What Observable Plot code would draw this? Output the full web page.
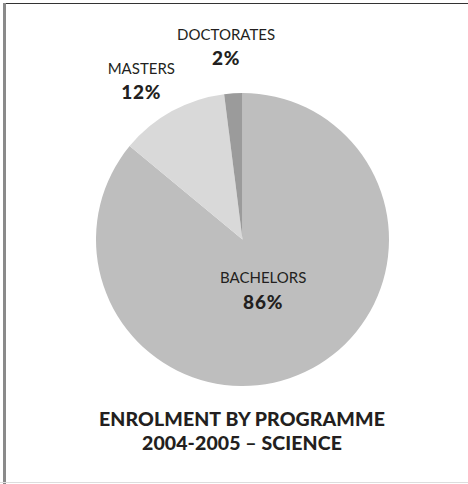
<!DOCTYPE html>
<html>
<head>
<meta charset="utf-8">
<script src="https://cdn.jsdelivr.net/npm/d3@7"></script>
<script src="https://cdn.jsdelivr.net/npm/@observablehq/plot@0.6"></script>
<style>
html, body { margin: 0; padding: 0; background: #fff; }
#frame { position: relative; width: 468px; height: 484px; overflow: hidden; font-family: Lato, sans-serif; }
#frame .top { position: absolute; left: 3px; top: 3px; right: 0; height: 1px; background: #333; }
#frame .left { position: absolute; left: 3px; top: 3px; width: 3px; bottom: 0; background: #8a8a8a; }
#frame .bottom { position: absolute; left: 0; right: 0; top: 482px; height: 1px; background: #ddd; }
#chart { position: absolute; left: 0; top: 0; }
#chart .pct text { letter-spacing: 0.8px; }
#title { position: absolute; left: 0; width: 484px; top: 406.5px; text-align: center; font-weight: 900;
  font-size: 19.5px; letter-spacing: 0.1px; line-height: 24.3px; color: #231f20; }
</style>
</head>
<body>
<div id="frame">
  <div class="top"></div>
  <div class="left"></div>
  <div class="bottom"></div>
  <div id="chart"></div>
  <div id="title">ENROLMENT BY PROGRAMME<br>2004-2005 – SCIENCE</div>
</div>
<script>
// ---- data ----
const categories = ["BACHELORS", "MASTERS", "DOCTORATES"];
const shares = [86, 12, 2];

// ---- layout (not data) ----
const cx = 242.5, cy = 239.5, R = 146.5;
const labelLayout = {
  BACHELORS: {r: 0.366, nudge: 3.1},
  MASTERS: {r: 1.292, nudge: -3.7},
  DOCTORATES: {r: 1.326, nudge: -1.4}
};
const color = Plot.scale({color: {domain: categories, range: ["#bebebe", "#d9d9d9", "#9b9b9b"]}});

const rows = categories.map((c, i) => ({category: c, share: shares[i]}));
const arcs = d3.pie().sort(null).value(d => d.share)(rows);

const labels = arcs.map(a => {
  const L = labelLayout[a.data.category];
  const ang = (a.startAngle + a.endAngle) / 2 + L.nudge * Math.PI / 180;
  return {
    x: Math.sin(ang) * L.r,
    y: -Math.cos(ang) * L.r,
    name: a.data.category,
    pct: `${a.data.share}%`
  };
});

function pieMark(index, scales, values, dimensions, context) {
  const x0 = scales.x(0), y0 = scales.y(0), r = scales.x(1) - x0;
  const arc = d3.arc().innerRadius(0).outerRadius(r);
  const g = d3.create("svg:g").attr("transform", `translate(${x0},${y0})`);
  g.selectAll("path").data(arcs).join("path")
    .attr("d", arc)
    .attr("fill", d => color.apply(d.data.category));
  return g.node();
}

const chart = Plot.plot({
  width: 468,
  height: 400,
  margin: 0,
  x: {domain: [-1, 1], range: [cx - R, cx + R], axis: null},
  y: {domain: [-1, 1], range: [cy - R, cy + R], axis: null},
  style: {fontFamily: "Lato, sans-serif", background: "transparent", color: "#231f20"},
  marks: [
    pieMark,
    Plot.text(labels, {x: "x", y: "y", text: "name", dy: -11.3, fontSize: 15, fill: "#231f20"}),
    Plot.text(labels, {x: "x", y: "y", text: "pct", dy: 12.8, fontSize: 19, fontWeight: 900, fill: "#231f20", className: "pct"})
  ]
});
document.getElementById("chart").appendChild(chart);
</script>
</body>
</html>
